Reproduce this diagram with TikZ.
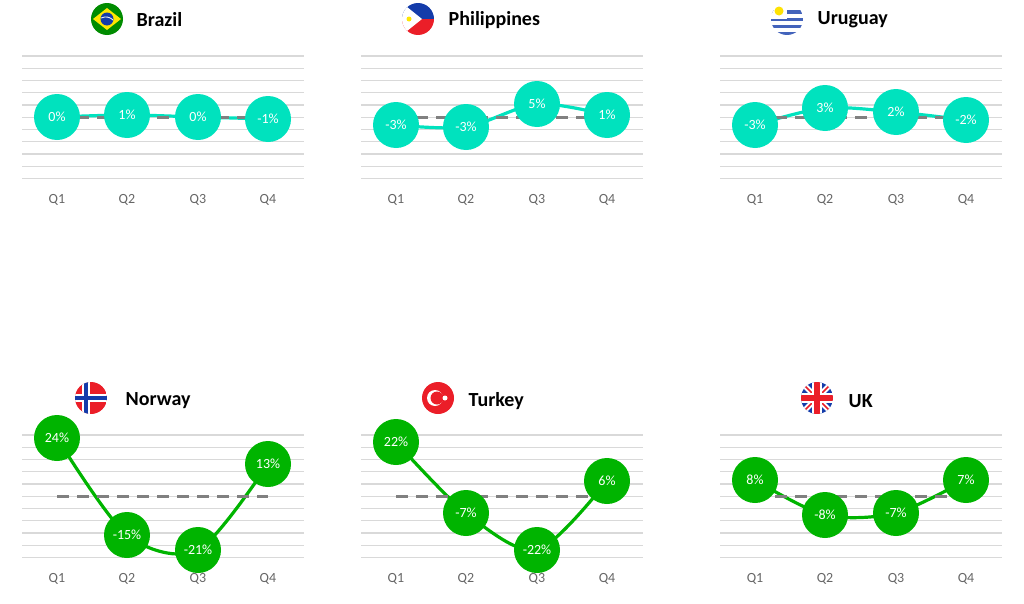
\documentclass[tikz,border=0pt]{standalone}
\usepackage{fontspec}
\setmainfont{Carlito}
\begin{document}
\begin{tikzpicture}[x=0.75pt,y=-0.75pt,
  grid/.style={draw=black!15,line width=0.9pt},
  zero/.style={draw=black!50,dashed,dash pattern=on 9pt off 6pt,line width=2pt},
  ser/.style={line width=2.4pt,line join=round},
  dot/.style={circle,minimum size=34.5pt,inner sep=0pt,text=white,font=\fontsize{10.5}{12}\selectfont},
  ql/.style={text=black!60,font=\fontsize{10.5}{12}\selectfont},
  ttl/.style={anchor=west,font=\bfseries\fontsize{15}{18}\selectfont}]
\useasboundingbox (0,0) rectangle (1024,603);
\definecolor{teal}{RGB}{0,226,190}
\definecolor{grn}{RGB}{0,180,0}
\definecolor{fblue}{RGB}{20,60,170}
\definecolor{fred}{RGB}{235,30,40}
% panel macro: #1 prefix, #2 x offset, #3 y top of grid, #4 colour, #5..#8 y of points, #9 labels
\newcommand{\panel}[9]{%
  \begin{scope}[shift={(#2,#3)}]
    \foreach \i in {0,...,10} \draw[grid] (22,\i*12.25) -- (304,\i*12.25);
    \coordinate (#1p1) at (57,#5);
    \coordinate (#1p2) at (127,#6);
    \coordinate (#1p3) at (198,#7);
    \coordinate (#1p4) at (268,#8);
    \coordinate (#1z1) at (57,61.25);
    \coordinate (#1z4) at (268,61.25);
    \draw[ser,#4] plot[smooth,tension=0.5] coordinates {(#1p1) (#1p2) (#1p3) (#1p4)};
    \draw[zero] (#1z1) -- (#1z4);
    \foreach \lab [count=\k] in {#9} \node[dot,fill=#4] (#1c\k) at (#1p\k) {\lab};
    \foreach \k in {1,...,4} \node[ql] (#1q\k) at ($(#1p\k|-0,144)$) {Q\k};
  \end{scope}}
\usetikzlibrary{calc}
% top row
\panel{a}{0}{56}{teal}{61}{59}{61}{63}{0\%,1\%,0\%,-1\%}
\panel{b}{339}{56}{teal}{69}{71}{48}{59}{-3\%,-3\%,5\%,1\%}
\panel{c}{698}{56}{teal}{69}{52}{56}{64}{-3\%,3\%,2\%,-2\%}
% bottom row
\panel{d}{0}{435}{grn}{3}{100}{115}{29}{24\%,-15\%,-21\%,13\%}
\panel{e}{339}{435}{grn}{7}{78}{115}{46}{22\%,-7\%,-22\%,6\%}
\panel{f}{698}{435}{grn}{45}{80}{78}{45}{8\%,-8\%,-7\%,7\%}
% titles and flags
% Brazil
\begin{scope}[shift={(107,19)}]
  \fill[green!55!black] (0,0) circle (16);
  \fill[yellow!90!orange] (-14,0) -- (0,-11) -- (14,0) -- (0,11) -- cycle;
  \fill[fblue] (0,0) circle (6.5);
  \draw[white,line width=0.6pt] (-6,-1) .. controls (-1,-3) and (3,-2) .. (6,1);
\end{scope}
\node[ttl] (tA) at (132,20) {Brazil};
% Philippines
\begin{scope}[shift={(418,19)}]
  \clip (0,0) circle (16);
  \fill[fblue] (-16,-16) rectangle (16,0);
  \fill[fred] (-16,0) rectangle (16,16);
  \fill[white] (-16,-16) -- (4,0) -- (-16,16) -- cycle;
  \fill[yellow!90!orange] (-9,0) circle (2.5);
\end{scope}
\node[ttl] (tB) at (444,20) {Philippines};
% Uruguay
\begin{scope}[shift={(787,19)}]
  \clip (0,0) circle (16);
  \fill[white] (-16,-16) rectangle (16,16);
  \foreach \j in {-1,1,3,5,7} \fill[fblue!80] (-16,{\j*3.55-5}) rectangle (16,{\j*3.55-1.5});
  \fill[white] (-16,-16) rectangle (0,0);
  \fill[yellow!85!orange] (-8,-8) circle (4.5);
\end{scope}
\node[ttl] (tC) at (813,20) {Uruguay};
% Norway
\begin{scope}[shift={(91,398)}]
  \clip (0,0) circle (16);
  \fill[fred] (-16,-16) rectangle (16,16);
  \fill[white] (-9,-16) rectangle (-1,16);
  \fill[white] (-16,-4) rectangle (16,4);
  \fill[fblue] (-7,-16) rectangle (-3,16);
  \fill[fblue] (-16,-2) rectangle (16,2);
\end{scope}
\node[ttl] (tD) at (121,401) {Norway};
% Turkey
\begin{scope}[shift={(438,398)}]
  \fill[fred] (0,0) circle (16);
  \fill[white] (-3,0) circle (8);
  \fill[fred] (-1,0) circle (6.5);
  \fill[white] (7,0) circle (2.5);
\end{scope}
\node[ttl] (tE) at (464,401) {Turkey};
% UK
\begin{scope}[shift={(817,398)}]
  \clip (0,0) circle (16);
  \fill[fblue] (-16,-16) rectangle (16,16);
  \draw[white,line width=4pt] (-16,-16) -- (16,16) (-16,16) -- (16,-16);
  \draw[fred,line width=1.3pt] (-16,-16) -- (16,16) (-16,16) -- (16,-16);
  \draw[white,line width=7pt] (-16,0) -- (16,0) (0,-16) -- (0,16);
  \draw[fred,line width=4pt] (-16,0) -- (16,0) (0,-16) -- (0,16);
\end{scope}
\node[ttl] (tF) at (844,401) {UK};
\end{tikzpicture}
\end{document}
